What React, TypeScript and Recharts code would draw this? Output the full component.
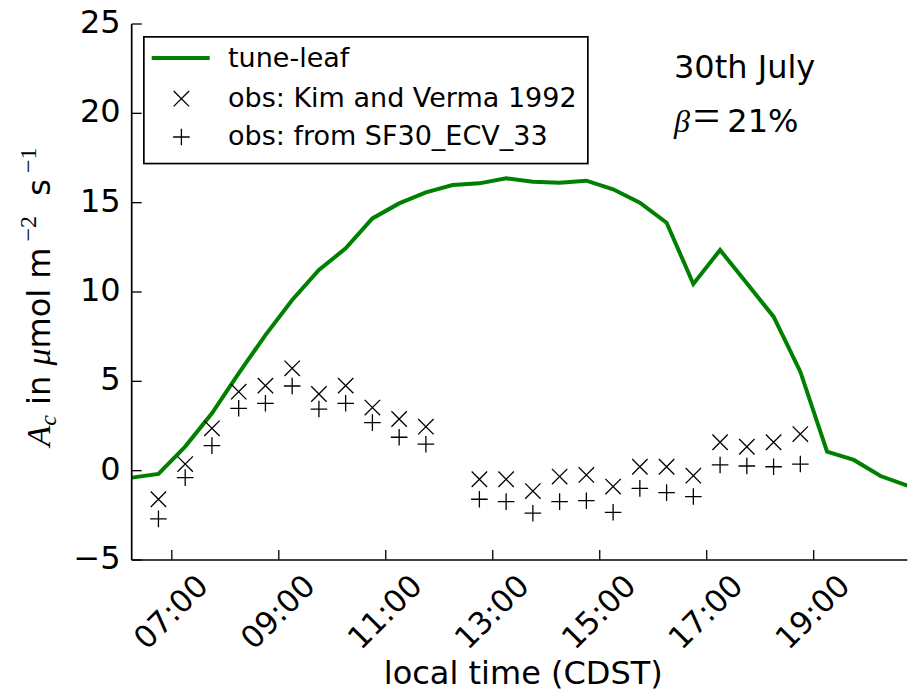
import React from 'react';
import { ComposedChart, Line, Scatter, XAxis, YAxis, Legend, Customized } from 'recharts';

// ---- data ----
const modelHours = [6.25, 6.75, 7.25, 7.75, 8.25, 8.75, 9.25, 9.75, 10.25, 10.75, 11.25, 11.75, 12.25, 12.75, 13.25, 13.75, 14.25, 14.75, 15.25, 15.75, 16.25, 16.75, 17.25, 17.75, 18.25, 18.75, 19.25, 19.75, 20.25, 20.75];
const tuneLeaf = [-0.39, -0.18, 1.35, 3.21, 5.45, 7.59, 9.55, 11.23, 12.44, 14.12, 14.96, 15.58, 15.99, 16.08, 16.36, 16.17, 16.12, 16.23, 15.75, 15.0, 13.88, 10.45, 12.35, 10.49, 8.62, 5.54, 1.06, 0.6, -0.3, -0.84];

const obsHours = [6.75, 7.25, 7.75, 8.25, 8.75, 9.25, 9.75, 10.25, 10.75, 11.25, 11.75, 12.75, 13.25, 13.75, 14.25, 14.75, 15.25, 15.75, 16.25, 16.75, 17.25, 17.75, 18.25, 18.75];
const kimVerma = [-1.6, 0.37, 2.37, 4.42, 4.76, 5.73, 4.29, 4.76, 3.53, 2.89, 2.46, -0.48, -0.48, -1.14, -0.33, -0.24, -0.89, 0.22, 0.22, -0.28, 1.59, 1.34, 1.59, 2.05];
const sf30 = [-2.7, -0.39, 1.4, 3.49, 3.77, 4.74, 3.45, 3.77, 2.69, 1.87, 1.48, -1.6, -1.73, -2.38, -1.73, -1.68, -2.33, -0.99, -1.23, -1.45, 0.32, 0.26, 0.22, 0.37];

const xTicks = [7, 9, 11, 13, 15, 17, 19];
const yTicks = [-5, 0, 5, 10, 15, 20, 25];
const xDomain = [6.25, 20.75];
const yDomain = [-5, 25];

const seriesNames = ['tune-leaf', 'obs: Kim and Verma 1992', 'obs: from SF30_ECV_33'];

const lineData = modelHours.map((t, i) => ({ t, v: tuneLeaf[i] }));
const kimData = obsHours.map((t, i) => ({ t, v: kimVerma[i] }));
const sfData = obsHours.map((t, i) => ({ t, v: sf30[i] }));

const FONT = 'DejaVu Sans';
const GREEN = '#008000';

const fmtHour = (h: number) => `${String(h).padStart(2, '0')}:00`;
const fmtY = (v: number) => (v < 0 ? '\u2212' + Math.abs(v) : String(v));

const BottomTick = (props: any) => {
  const { x, y, payload } = props;
  const cx = x - 1.5;
  const cy = y + 51.5;
  return (
    <g>
      <line x1={x} y1={y} x2={x} y2={y - 10} stroke="#000" strokeWidth={1.3} />
      <text x={cx} y={cy + 11.3} textAnchor="middle" fontSize={31} fontFamily={FONT} fill="#000"
        transform={`rotate(-45, ${cx}, ${cy})`}>{fmtHour(payload.value)}</text>
    </g>
  );
};
const TopTick = (props: any) => {
  const { x, y } = props;
  return <line x1={x} y1={y} x2={x} y2={y + 10} stroke="#000" strokeWidth={1.3} />;
};
const LeftTick = (props: any) => {
  const { x, y, payload } = props;
  return (
    <g>
      <line x1={x} y1={y} x2={x + 10} y2={y} stroke="#000" strokeWidth={1.3} />
      <text x={x - 11} y={y + 9} textAnchor="end" fontSize={32} fontFamily={FONT} fill="#000">{fmtY(payload.value)}</text>
    </g>
  );
};
const RightTick = (props: any) => {
  const { x, y } = props;
  return <line x1={x} y1={y} x2={x - 10} y2={y} stroke="#000" strokeWidth={1.3} />;
};

const XMark = (props: any) => {
  const { cx, cy } = props;
  const s = 7.7;
  return <path d={`M${cx - s},${cy - s}L${cx + s},${cy + s}M${cx - s},${cy + s}L${cx + s},${cy - s}`} stroke="#000" strokeWidth={1.3} fill="none" />;
};
const PlusMark = (props: any) => {
  const { cx, cy } = props;
  const s = 8.3;
  return <path d={`M${cx - s},${cy}L${cx + s},${cy}M${cx},${cy - s}L${cx},${cy + s}`} stroke="#000" strokeWidth={1.3} fill="none" />;
};

const LegendBox = () => (
  <svg width={446} height={129} style={{ display: 'block' }}>
    <rect x={0.85} y={0.85} width={444} height={126.7} fill="#fff" stroke="#000" strokeWidth={1.7} />
    <line x1={8.7} y1={22} x2={66.7} y2={22} stroke={GREEN} strokeWidth={4} />
    <XMark cx={38.4} cy={62.7} />
    <PlusMark cx={38.4} cy={101} />
    <text x={85} y={31} fontSize={27} fontFamily={FONT} fill="#000">{seriesNames[0]}</text>
    <text x={85} y={71} fontSize={27} fontFamily={FONT} fill="#000">{seriesNames[1]}</text>
    <text x={85} y={109.4} fontSize={27} fontFamily={FONT} fill="#000">{seriesNames[2]}</text>
  </svg>
);

const Annotations = () => (
  <g fill="#000">
    <text x={666} y={78.3} fontSize={32} fontFamily={FONT}>30th July</text>
    <text y={131.7} fontSize={32} fontFamily={FONT}>
      <tspan x={666} fontFamily="Liberation Serif" fontStyle="italic">β</tspan>
      <tspan x={685} fontFamily="Liberation Serif" fontSize={48}>=</tspan>
      <tspan x={719.3}>21%</tspan>
    </text>
    <text x={515.3} y={683.5} fontSize={32} fontFamily={FONT} textAnchor="middle">local time (CDST)</text>
    <text transform="translate(41.5, 297) rotate(-90)" textAnchor="middle" fontSize={32} fontFamily={FONT} style={{ whiteSpace: 'pre' }}>
      <tspan fontFamily="Liberation Serif" fontStyle="italic" fontSize={34}>A</tspan>
      <tspan fontFamily="Liberation Serif" fontStyle="italic" fontSize={24} dy={6}>c</tspan>
      <tspan dy={-6}> in </tspan>
      <tspan fontFamily="Liberation Serif" fontStyle="italic" fontSize={34}>μ</tspan>
      <tspan>mol m</tspan>
      <tspan fontFamily="Liberation Serif" fontSize={24} dy={-14}> −2</tspan>
      <tspan dy={14}>  s</tspan>
      <tspan fontFamily="Liberation Serif" fontSize={24} dy={-14}> −1</tspan>
    </text>
  </g>
);

export default function App() {
  return (
    <div style={{ width: 901, height: 692, marginTop: -8 }}>
      <ComposedChart width={901} height={692} margin={{ top: 24, right: 1.7, bottom: 0, left: 0 }}>
        <XAxis xAxisId={0} type="number" dataKey="t" domain={xDomain} ticks={xTicks} interval={0}
          allowDataOverflow height={132} tickSize={0} tickMargin={0} tickLine={false}
          axisLine={{ stroke: '#000', strokeWidth: 1.7 }} tick={BottomTick} />
        <XAxis xAxisId="top" orientation="top" type="number" dataKey="t" domain={xDomain} ticks={xTicks} interval={0}
          allowDataOverflow height={0} tickSize={0} tickMargin={0} tickLine={false}
          axisLine={{ stroke: '#000', strokeWidth: 1.7 }} tick={TopTick} />
        <YAxis yAxisId={0} type="number" domain={yDomain} ticks={yTicks} interval={0} allowDataOverflow
          width={123.7} tickSize={0} tickMargin={0} tickLine={false}
          axisLine={{ stroke: '#000', strokeWidth: 1.7 }} tick={LeftTick} />
        <YAxis yAxisId="right" orientation="right" type="number" domain={yDomain} ticks={yTicks} interval={0} allowDataOverflow
          width={0} tickSize={0} tickMargin={0} tickLine={false}
          axisLine={{ stroke: '#000', strokeWidth: 1.7 }} tick={RightTick} />
        <Line data={lineData} dataKey="v" type="linear" stroke={GREEN} strokeWidth={4} dot={false} activeDot={false}
          isAnimationActive={false} name={seriesNames[0]} />
        <Scatter data={kimData} dataKey="v" shape={(p: any) => <XMark {...p} />} isAnimationActive={false} name={seriesNames[1]} />
        <Scatter data={sfData} dataKey="v" shape={(p: any) => <PlusMark {...p} />} isAnimationActive={false} name={seriesNames[2]} />
        <Customized component={Annotations} />
        <Legend layout="vertical" align="center" verticalAlign="middle" content={() => <LegendBox />}
          wrapperStyle={{ position: 'absolute', left: 135.45, top: 36.45, width: 446, height: 129, margin: 0, padding: 0 }} />
      </ComposedChart>
    </div>
  );
}
